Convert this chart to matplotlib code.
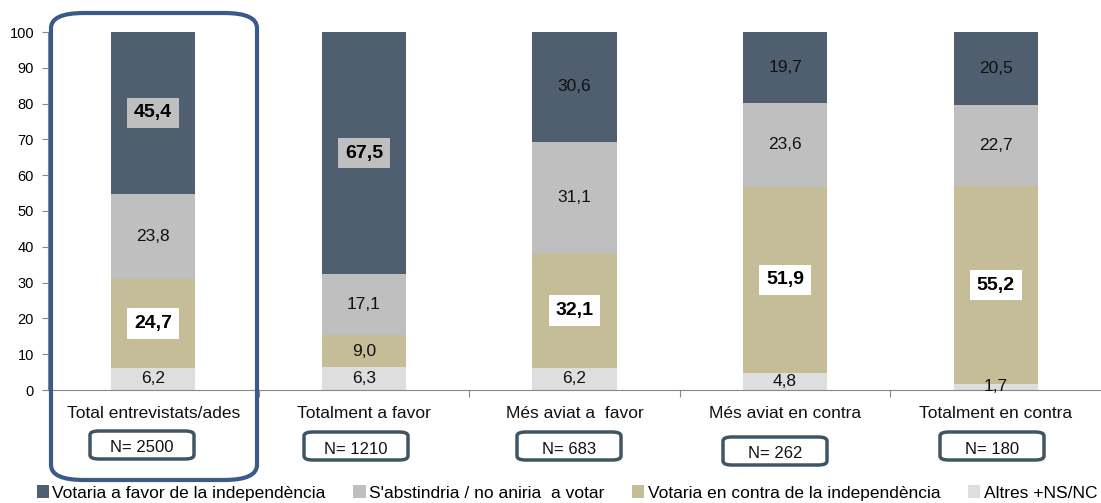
import matplotlib.pyplot as plt
from matplotlib.patches import FancyBboxPatch
import numpy as np

plt.rcParams['font.family'] = ['Liberation Sans', 'DejaVu Sans']

# --- dades ---
categories = ['Total entrevistats/ades', 'Totalment a favor', 'Més aviat a  favor',
              'Més aviat en contra', 'Totalment en contra']
n_labels = ['N= 2500', 'N= 1210', 'N= 683', 'N= 262', 'N= 180']
series = ['Votaria a favor de la independència', "S'abstindria / no aniria  a votar",
          'Votaria en contra de la independència', 'Altres +NS/NC']
altres = [6.2, 6.3, 6.2, 4.8, 1.7]
en_contra = [24.7, 9.0, 32.1, 51.9, 55.2]
abstencio = [23.8, 17.1, 31.1, 23.6, 22.7]
a_favor = [45.4, 67.5, 30.6, 19.7, 20.5]

colors = {'favor': '#4f5f6f', 'abst': '#bfbfbf', 'contra': '#c4bd97', 'altres': '#dedede'}

W, H = 1101, 503
fig = plt.figure(figsize=(W / 100, H / 100), dpi=100)
ax = fig.add_axes([48 / W, 1 - 390 / H, 1 - 48 / W, (390 - 32) / H])

x = np.arange(len(categories))
bw = 0.40
stack = [(altres, colors['altres'], series[3]),
         (en_contra, colors['contra'], series[2]),
         (abstencio, colors['abst'], series[1]),
         (a_favor, colors['favor'], series[0])]

bottom = np.zeros(len(categories))
# etiquetes destacades (negreta amb fons)
bold_boxes = {(1, 0): 'white', (1, 2): 'white', (1, 3): 'white', (1, 4): 'white',
              (3, 0): '#bfbfbf', (3, 1): '#bfbfbf'}
for si, (vals, col, lab) in enumerate(stack):
    vals = np.array(vals)
    ax.bar(x, vals, bw, bottom=bottom, color=col, label=lab, zorder=2)
    for i, v in enumerate(vals):
        txt = f'{v:.1f}'.replace('.', ',')
        yc = bottom[i] + v / 2
        if (si, i) in bold_boxes:
            ax.text(x[i], yc, txt, ha='center', va='center', fontsize=14, fontweight='bold',
                    color='black', zorder=4,
                    bbox=dict(boxstyle='square,pad=0.35', fc=bold_boxes[(si, i)], ec='none'))
        else:
            ax.text(x[i], yc, txt, ha='center', va='center', fontsize=12.5,
                    color='#111111', zorder=4)
    bottom += vals

ax.set_xlim(-0.5, len(categories) - 0.5)
ax.set_ylim(0, 100)
ax.set_yticks(range(0, 101, 10))
ax.tick_params(axis='y', labelsize=10.5, length=4, color='#888888', pad=6)
ax.set_xticks(np.arange(0.5, len(categories) - 0.5, 1))
ax.set_xticklabels([])
ax.tick_params(axis='x', length=5, color='#888888', direction='out')
for s in ['top', 'right']:
    ax.spines[s].set_visible(False)
ax.spines['left'].set_color('#888888')
ax.spines['bottom'].set_color('#888888')

# etiquetes de categoria
for i, c in enumerate(categories):
    ax.text(x[i], -6.5, c, ha='center', va='center', fontsize=12.5, color='#111111',
            clip_on=False)

# caixes N=
n_boxes = [(90, 431), (304, 432), (517, 432), (723, 437), (940, 432)]
for (px, py), lab in zip(n_boxes, n_labels):
    bw_px, bh_px = 104, 28
    p = FancyBboxPatch((px / W, 1 - (py + bh_px) / H), bw_px / W, bh_px / H,
                       boxstyle='round,pad=0,rounding_size=0.008', transform=fig.transFigure,
                       fc='white', ec='#3f5563', lw=2.5, zorder=5)
    fig.patches.append(p)
    fig.text((px + bw_px / 2) / W, 1 - (py + bh_px / 2 + 3) / H, lab, ha='center', va='center',
             fontsize=12, color='#111111', zorder=7)

# marc gran
big = FancyBboxPatch((51 / W, 1 - 480 / H), 206 / W, 467 / H,
                     boxstyle='round,pad=0,rounding_size=0.03', transform=fig.transFigure,
                     fc='none', ec='#3a5a8a', lw=3, zorder=6)
fig.patches.append(big)

# llegenda
handles, labels = ax.get_legend_handles_labels()
order = [3, 2, 1, 0]
fig.legend([handles[k] for k in order], [labels[k] for k in order], loc='center',
           bbox_to_anchor=(0.515, 1 - 493 / H), ncol=4, frameon=False,
           prop={'size': 12.5},
           handlelength=0.7, handleheight=0.7, handletextpad=0.2, columnspacing=1.6,
           borderaxespad=0)

fig.savefig('out.png', dpi=100)
